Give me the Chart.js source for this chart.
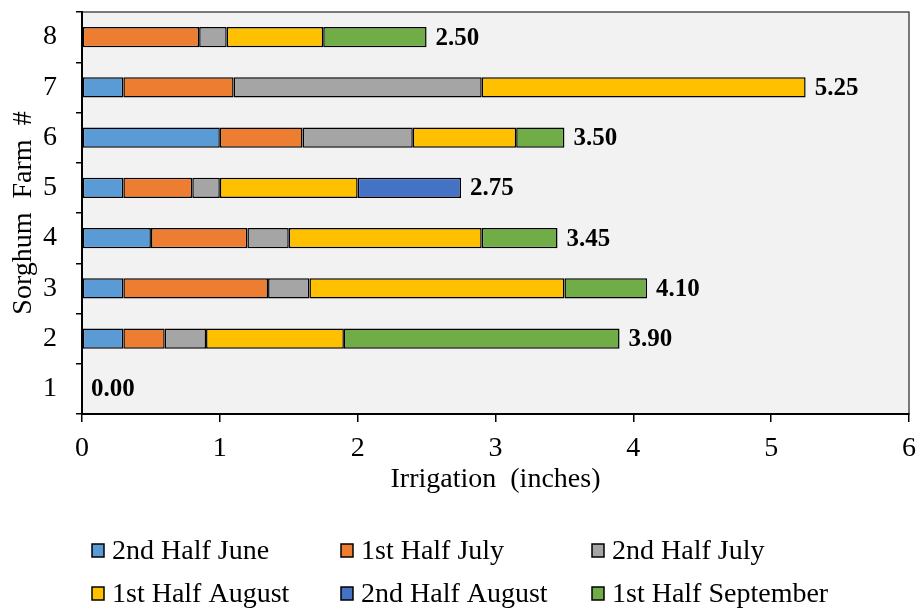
<!DOCTYPE html>
<html>
<head>
<meta charset="utf-8">
<script src="https://cdn.jsdelivr.net/npm/chart.js@4/dist/chart.umd.min.js"></script>
<style>
  html, body { margin: 0; padding: 0; background: #ffffff; }
  #wrap { width: 916px; height: 610px; }
</style>
</head>
<body>
<div id="wrap"><canvas id="chart" width="916" height="610"></canvas></div>
<script>
// Irrigation applied per half-month period on each sorghum farm (inches)
const farms = ['1', '2', '3', '4', '5', '6', '7', '8'];
const seriesNames = ['2nd Half June', '1st Half July', '2nd Half July', '1st Half August', '2nd Half August', '1st Half September'];
const juneLate   = [null, 0.30, 0.30, 0.50, 0.30, 1.00, 0.30, null];
const julyEarly  = [null, 0.30, 1.05, 0.70, 0.50, 0.60, 0.80, 0.85];
const julyLate   = [null, 0.30, 0.30, 0.30, 0.20, 0.80, 1.80, 0.20];
const augEarly   = [null, 1.00, 1.85, 1.40, 1.00, 0.75, 2.35, 0.70];
const augLate    = [null, null, null, null, 0.75, null, null, null];
const sepEarly   = [null, 2.00, 0.60, 0.55, null, 0.35, null, 0.75];
const xTicks = [0, 1, 2, 3, 4, 5, 6];

const seriesValues = [juneLate, julyEarly, julyLate, augEarly, augLate, sepEarly];
const seriesColors = ['#5B9BD5', '#ED7D31', '#A5A5A5', '#FFC000', '#4472C4', '#70AD47'];

const SERIF = '"Liberation Serif", "Times New Roman", serif';

// light grey plot background with a thin frame
const plotFrame = {
  id: 'plotFrame',
  beforeDraw(chart) {
    const { ctx, chartArea: a } = chart;
    ctx.save();
    ctx.fillStyle = '#F2F2F2';
    ctx.fillRect(a.left, a.top, a.right - a.left, a.bottom - a.top);
    ctx.strokeStyle = '#262626';
    ctx.lineWidth = 1.2;
    ctx.strokeRect(a.left, a.top, a.right - a.left, a.bottom - a.top);
    ctx.restore();
  }
};

// per-farm totals written at the end of each stacked bar
const totalLabels = {
  id: 'totalLabels',
  afterDatasetsDraw(chart) {
    const { ctx, scales: { x, y } } = chart;
    ctx.save();
    ctx.font = 'bold 25px ' + SERIF;
    ctx.fillStyle = '#000';
    ctx.textAlign = 'left';
    ctx.textBaseline = 'middle';
    farms.forEach((f, i) => {
      const total = chart.data.datasets.reduce((s, ds) => s + (ds.data[i] || 0), 0);
      ctx.fillText(total.toFixed(2), x.getPixelForValue(total) + 9, y.getPixelForValue(i) + 1);
    });
    ctx.restore();
  }
};

// three-column legend under the axis title
const gridLegend = {
  id: 'gridLegend',
  afterDraw(chart) {
    const { ctx } = chart;
    const colX = [92, 341, 592];
    const rowY = [551, 594];
    ctx.save();
    ctx.font = '28px ' + SERIF;
    ctx.textBaseline = 'middle';
    ctx.textAlign = 'left';
    chart.data.datasets.forEach((ds, i) => {
      const cx = colX[i % 3];
      const cy = rowY[Math.floor(i / 3)];
      ctx.fillStyle = ds.backgroundColor;
      ctx.fillRect(cx, cy - 7, 12, 13);
      ctx.strokeStyle = '#000';
      ctx.lineWidth = 1.5;
      ctx.strokeRect(cx, cy - 7, 12, 13);
      ctx.fillStyle = '#000';
      ctx.fillText(ds.label, cx + 20, cy + 1);
    });
    ctx.restore();
  }
};

new Chart(document.getElementById('chart'), {
  type: 'bar',
  data: {
    labels: farms,
    datasets: seriesNames.map((name, i) => ({
      label: name,
      data: seriesValues[i],
      backgroundColor: seriesColors[i],
      borderColor: '#000',
      borderWidth: 1.5,
      borderSkipped: false,
      barPercentage: 0.4,
      categoryPercentage: 1.0
    }))
  },
  options: {
    indexAxis: 'y',
    responsive: false,
    devicePixelRatio: 1,
    animation: false,
    layout: { padding: { left: 0, top: 12, right: 7, bottom: 100 } },
    plugins: { legend: { display: false }, tooltip: { enabled: false } },
    scales: {
      x: {
        stacked: true,
        min: 0,
        max: 6,
        afterBuildTicks(scale) { scale.ticks = xTicks.map(v => ({ value: v })); },
        afterFit(scale) { scale.height = 96; scale.paddingLeft = 0; scale.paddingRight = 0; },
        ticks: { color: '#000', font: { family: SERIF, size: 28 }, padding: 10, maxRotation: 0 },
        grid: { drawOnChartArea: false, drawTicks: true, tickLength: 8, color: '#000', lineWidth: 1.5 },
        border: { display: true, color: '#000', width: 2 },
        title: {
          display: true,
          text: 'Irrigation  (inches)',
          color: '#000',
          font: { family: SERIF, size: 28 },
          padding: { top: 0, bottom: 14 }
        }
      },
      y: {
        stacked: true,
        reverse: true,
        offset: true,
        afterFit(scale) { scale.width = 82; scale.paddingTop = 0; scale.paddingBottom = 0; },
        ticks: { color: '#000', font: { family: SERIF, size: 28 }, padding: 19 },
        grid: { offset: true, drawOnChartArea: false, drawTicks: true, tickLength: 6, color: '#000', lineWidth: 1.5 },
        border: { display: true, color: '#000', width: 2 },
        title: {
          display: true,
          text: 'Sorghum  Farm  #',
          color: '#000',
          font: { family: SERIF, size: 28 },
          padding: { top: 7, bottom: 0 }
        }
      }
    }
  },
  plugins: [plotFrame, totalLabels, gridLegend]
});
</script>
</body>
</html>
